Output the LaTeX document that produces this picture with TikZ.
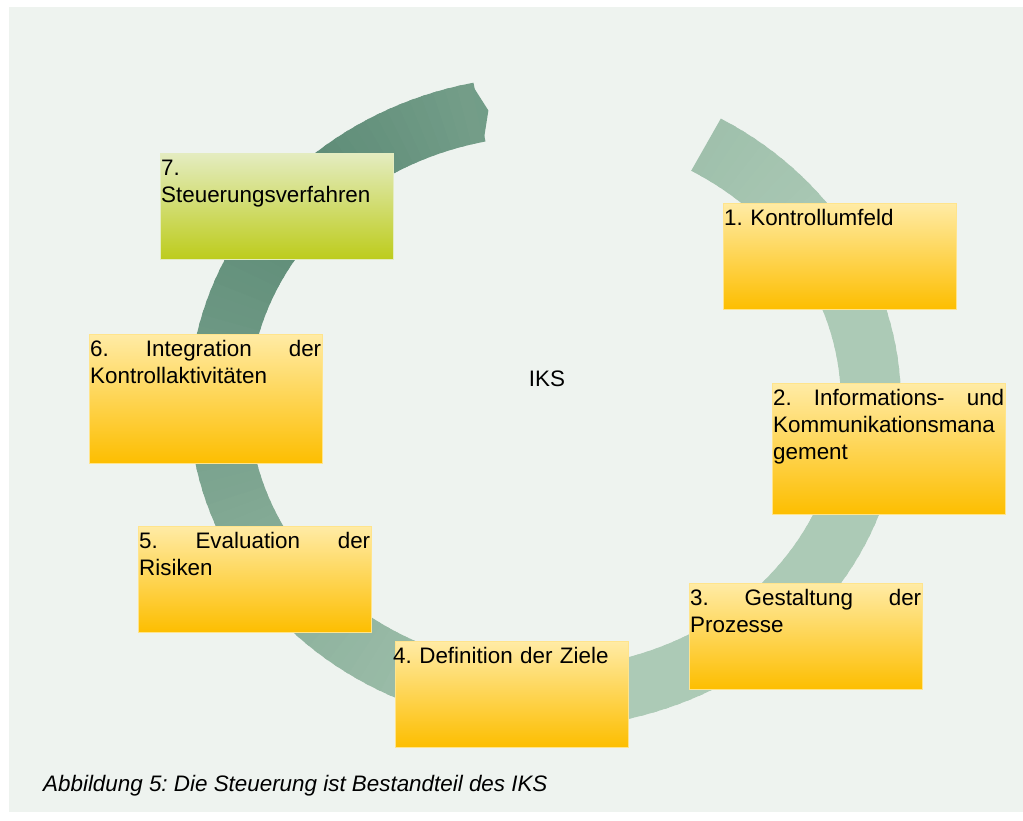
\documentclass[tikz,border=0pt]{standalone}
\usepackage{fontspec}
\setmainfont{Liberation Sans}
\frenchspacing
\definecolor{hgrund}{RGB}{238,243,239}
\definecolor{ringhell}{RGB}{172,202,182}
\definecolor{ringdunkel}{RGB}{90,137,116}
\definecolor{feldoben}{RGB}{255,235,165}
\definecolor{feldunten}{RGB}{253,190,0}
\definecolor{feldrand}{RGB}{255,228,140}
\definecolor{gruenoben}{RGB}{228,236,192}
\definecolor{gruenunten}{RGB}{189,204,28}
\newcommand{\iksfont}{\fontsize{22.4}{27}\selectfont}
\tikzset{
  feld/.style={rectangle, anchor=north west, inner sep=0pt, minimum width=233pt, minimum height=106pt,
    top color=feldoben, bottom color=feldunten, draw=feldrand, line width=0.6pt},
  feldtext/.style={anchor=north west, inner sep=0pt, text width=231pt, align=left, font=\iksfont,
    execute at begin node={\rule{0pt}{22pt}}}
}

\begin{document}
\begin{tikzpicture}[x=1pt,y=-1pt]
\useasboundingbox (0,0) rectangle (1023,820);
\fill[white] (0,0) rectangle (1023,820);
\fill[hgrund] (9,7) rectangle (1023,812);

% ring, hell rechts unten, dunkel oben links
\foreach \i in {0,...,158} {
  \pgfmathsetmacro\aa{60-2*\i+0.4}
  \pgfmathsetmacro\ab{60-2*\i-2.4}
  \pgfmathsetmacro\t{\i/158}
  \pgfmathtruncatemacro\p{\t<0.1 ? 15*(1-\t/0.1) : (\t<0.45 ? 0 : (\t<0.9 ? 100*(\t-0.45)/0.45 : 100-300*(\t-0.9)))}
  \fill[ringdunkel!\p!ringhell] ({545+356*cos(\aa)},{402-326*sin(\aa)}) -- ({545+356*cos(\ab)},{402-326*sin(\ab)})
    -- ({545+296*cos(\ab)},{402-266*sin(\ab)}) -- ({545+296*cos(\aa)},{402-266*sin(\aa)}) -- cycle;
}
\fill[ringdunkel!70!ringhell] ({545+356*cos(-258)},{402-326*sin(-258)}) -- ({545+326*cos(-260)},{402-296*sin(-260)})
  -- ({545+296*cos(-258)},{402-266*sin(-258)}) -- cycle;

\node[feld, top color=gruenoben, bottom color=gruenunten, draw=gruenoben] (f7) at (160,153) {};
\node[feldtext] (t7) at ([xshift=1pt]f7.north west) {7.\\Steuerungsverfahren};

\node[feld] (f1) at (723,203) {};
\node[feldtext] (t1) at ([xshift=1pt]f1.north west) {1. Kontrollumfeld};

\node[feld, minimum height=131pt] (f2) at (772,383) {};
\node[feldtext] (t2) at ([xshift=1pt]f2.north west) {2.\hfill Informations-\hfill und\\Kommunikationsmana\\gement};

\node[feld] (f3) at (689,583) {};
\node[feldtext] (t3) at ([xshift=1pt]f3.north west) {3.\hfill Gestaltung\hfill der\\Prozesse};

\node[feld] (f4) at (395,641) {};
\node[feldtext] (t4) at ([xshift=-2pt]f4.north west) {4. Definition der Ziele};

\node[feld] (f5) at (138,526) {};
\node[feldtext] (t5) at ([xshift=1pt]f5.north west) {5.\hfill Evaluation\hfill der\\Risiken};

\node[feld, minimum height=129pt] (f6) at (89,334) {};
\node[feldtext] (t6) at ([xshift=1pt]f6.north west) {6.\hfill Integration\hfill der\\Kontrollaktivitäten};

\node[anchor=base, inner sep=0pt, font=\iksfont] (iks) at (547,386) {IKS};
\node[anchor=base west, inner sep=0pt, font=\iksfont\itshape] (abb) at (43,791) {Abbildung 5: Die Steuerung ist Bestandteil des IKS};
\end{tikzpicture}
\end{document}
